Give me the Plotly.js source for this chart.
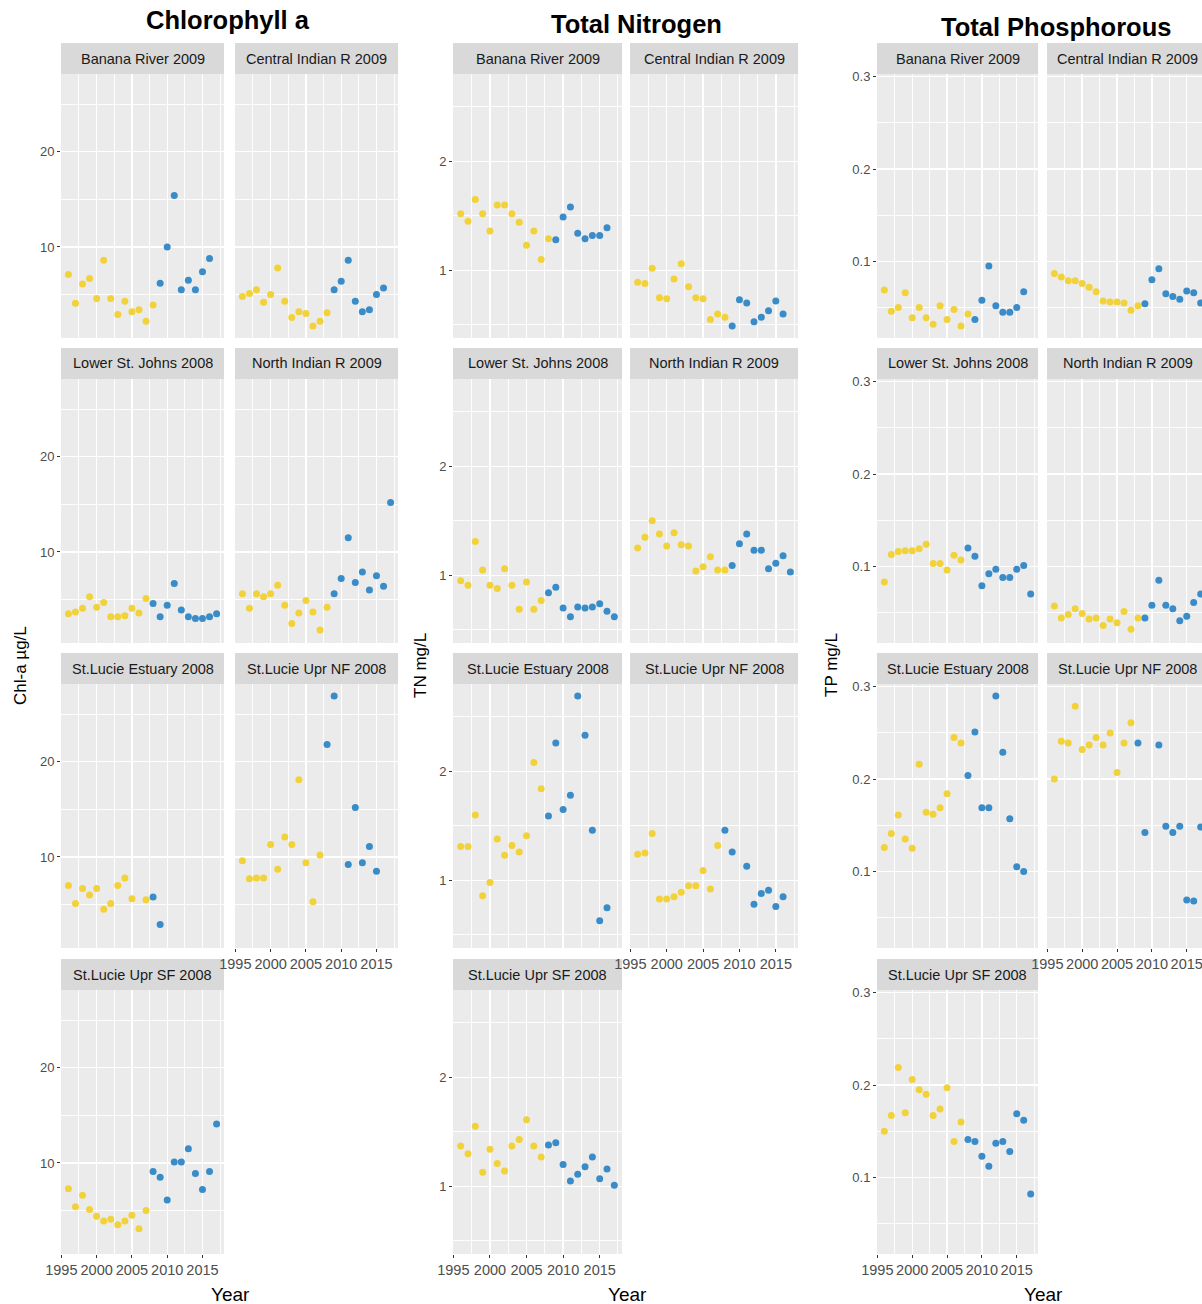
<!DOCTYPE html>
<html><head><meta charset="utf-8">
<script src="https://cdn.plot.ly/plotly-3.0.1.min.js"></script>
<style>html,body{margin:0;padding:0;overflow:hidden;background:#fff}#chart{width:1212px;height:1304px}</style>
</head><body><div id="chart"></div>
<script>
// ---------------- DATA ----------------
const years = [1996,1997,1998,1999,2000,2001,2002,2003,2004,2005,2006,2007,2008,2009,2010,2011,2012,2013,2014,2015,2016,2017];
const siteNames = ["Banana River","Central Indian R","Lower St. Johns","North Indian R","St.Lucie Estuary","St.Lucie Upr NF","St.Lucie Upr SF"];
const changeYears = [2009,2009,2008,2009,2008,2008,2008];
const panelTitles = ["Chlorophyll a","Total Nitrogen","Total Phosphorous"];
const yAxisTitles = ["Chl-a µg/L","TN mg/L","TP mg/L"];
const xAxisTitle = "Year";

// Chlorophyll a (values by year starting 1996; null = no sample)
const chlBanana  = [7.1,4.1,6.1,6.7,4.6,8.6,4.6,2.9,4.3,3.2,3.4,2.2,3.9,6.2,10.0,15.4,5.5,6.5,5.5,7.4,8.8];
const chlCentral = [4.8,5.1,5.5,4.2,5.0,7.8,4.3,2.6,3.2,3.0,1.7,2.2,3.1,5.5,6.4,8.6,4.3,3.2,3.4,5.0,5.7];
const chlLower   = [3.5,3.7,4.1,5.3,4.2,4.7,3.2,3.2,3.3,4.1,3.6,5.1,4.6,3.2,4.4,6.7,3.9,3.2,3.0,3.0,3.2,3.5];
const chlNorth   = [5.6,4.1,5.6,5.3,5.6,6.5,4.4,2.5,3.6,4.9,3.7,1.8,4.2,5.6,7.2,11.5,6.8,7.9,6.0,7.5,6.4,15.2];
const chlEstuary = [7.0,5.1,6.7,6.0,6.7,4.5,5.1,7.0,7.8,5.6,null,5.5,5.8,2.9];
const chlUprNF   = [9.6,7.7,7.8,7.8,11.3,8.7,12.1,11.3,18.1,9.4,5.3,10.2,21.8,26.9,null,9.2,15.2,9.4,11.1,8.5];
const chlUprSF   = [7.3,5.4,6.6,5.1,4.4,3.9,4.1,3.5,3.9,4.5,3.1,5.0,9.1,8.5,6.1,10.1,10.1,11.5,8.9,7.2,9.1,14.1];

// Total Nitrogen
const tnBanana  = [1.52,1.45,1.65,1.52,1.36,1.60,1.60,1.52,1.44,1.23,1.36,1.10,1.29,1.28,1.49,1.58,1.34,1.29,1.32,1.32,1.39];
const tnCentral = [0.89,0.88,1.02,0.75,0.74,0.92,1.06,0.85,0.75,0.74,0.55,0.60,0.57,0.49,0.73,0.70,0.53,0.57,0.63,0.72,0.60];
const tnLower   = [0.95,0.91,1.31,1.05,0.91,0.88,1.06,0.91,0.69,0.94,0.69,0.77,0.84,0.89,0.70,0.62,0.71,0.70,0.71,0.74,0.67,0.62];
const tnNorth   = [1.25,1.35,1.50,1.38,1.27,1.39,1.28,1.27,1.04,1.08,1.17,1.05,1.05,1.09,1.29,1.38,1.23,1.23,1.06,1.11,1.18,1.03];
const tnEstuary = [1.31,1.31,1.60,0.86,0.98,1.38,1.23,1.32,1.26,1.41,2.08,1.84,1.59,2.26,1.65,1.78,2.69,2.33,1.46,0.63,0.75];
const tnUprNF   = [1.24,1.25,1.43,0.83,0.83,0.85,0.89,0.95,0.95,1.09,0.92,1.32,1.46,1.26,null,1.13,0.78,0.88,0.91,0.76,0.85];
const tnUprSF   = [1.37,1.30,1.55,1.13,1.34,1.21,1.14,1.37,1.43,1.61,1.37,1.27,1.38,1.40,1.20,1.05,1.11,1.18,1.27,1.07,1.16,1.01];

// Total Phosphorous
const tpBanana  = [0.069,0.046,0.050,0.066,0.039,0.050,0.039,0.032,0.052,0.037,0.048,0.030,0.043,0.037,0.058,0.095,0.052,0.045,0.045,0.050,0.067];
const tpCentral = [0.087,0.083,0.079,0.079,0.076,0.072,0.067,0.057,0.056,0.056,0.055,0.047,0.052,0.054,0.080,0.092,0.065,0.062,0.059,0.068,0.066,0.055];
const tpLower   = [0.083,0.113,0.116,0.117,0.117,0.119,0.124,0.103,0.103,0.096,0.112,0.107,0.120,0.111,0.079,0.092,0.097,0.088,0.088,0.097,0.101,0.070];
const tpNorth   = [0.057,0.044,0.048,0.054,0.049,0.043,0.044,0.036,0.043,0.039,0.051,0.032,0.044,0.044,0.058,0.085,0.058,0.054,0.041,0.046,0.061,0.070];
const tpEstuary = [0.126,0.141,0.161,0.135,0.125,0.216,0.164,0.162,0.169,0.184,0.245,0.239,0.204,0.251,0.169,0.169,0.290,0.229,0.157,0.105,0.100];
const tpUprNF   = [0.200,0.241,0.239,0.279,0.232,0.237,0.245,0.237,0.250,0.207,0.239,0.261,0.239,0.142,null,0.237,0.149,0.142,0.149,0.069,0.068,0.148];
const tpUprSF   = [0.150,0.167,0.219,0.170,0.206,0.195,0.190,0.167,0.174,0.197,0.139,0.160,0.141,0.139,0.123,0.112,0.137,0.139,0.128,0.169,0.162,0.082];

// ---------------- LAYOUT / STYLE ----------------
const W = 1212, H = 1304;
const FONT = 'Arial, "Liberation Sans", sans-serif';
const YELLOW = '#F2D23A', BLUE = '#3A8CC8';
const columnData = [
  [chlBanana,chlCentral,chlLower,chlNorth,chlEstuary,chlUprNF,chlUprSF],
  [tnBanana,tnCentral,tnLower,tnNorth,tnEstuary,tnUprNF,tnUprSF],
  [tpBanana,tpCentral,tpLower,tpNorth,tpEstuary,tpUprNF,tpUprSF]
];
const colGeom = [
  {px:[[61,224],[235,398]], titleX:228, titleY:20, yTitleX:20, dtick:10, minor:5, xTitleX:230},
  {px:[[453,622],[630,798]], titleX:636, titleY:24, yTitleX:420, dtick:1, minor:0.5, xTitleX:627},
  {px:[[877,1038],[1047,1208]], titleX:1056, titleY:27, yTitleX:831, dtick:0.1, minor:0.05, xTitleX:1043}
];
const stripTops = [43,348,653,959];
const stripH = 31, panelH = 264;

const fx = p => p / W;
const fy = p => 1 - p / H;

const xMin = Math.min(...years), xMax = Math.max(...years);
const xPad = 0.05 * (xMax - xMin);
const xRange = [xMin - xPad, xMax + xPad];

const traces = [];
const layout = {
  width: W, height: H,
  margin: {l:0, r:0, t:0, b:0},
  paper_bgcolor: '#FFFFFF',
  plot_bgcolor: '#EBEBEB',
  showlegend: false,
  font: {family: FONT, color: '#1A1A1A'},
  shapes: [], annotations: []
};

for (let c = 0; c < 3; c++) {
  const g = colGeom[c];
  const all = columnData[c].flat().filter(v => v !== null);
  const yMin = Math.min(...all), yMax = Math.max(...all);
  const yPad = 0.05 * (yMax - yMin);
  const yRange = [yMin - yPad, yMax + yPad];

  for (let i = 0; i < 7; i++) {
    const k = c * 7 + i + 1;
    const row = Math.floor(i / 2), col = i % 2;
    const [x0, x1] = g.px[col];
    const sTop = stripTops[row];
    const pTop = sTop + stripH, pBot = pTop + panelH;
    const vals = columnData[c][i];
    const yrs = years.slice(0, vals.length);

    traces.push({
      type: 'scatter', mode: 'markers',
      x: yrs, y: vals,
      xaxis: 'x' + k, yaxis: 'y' + k,
      marker: {size: 7, color: yrs.map(y => y < changeYears[i] ? YELLOW : BLUE)},
      hoverinfo: 'skip'
    });

    const showX = (i === 5 || i === 6);
    const showY = (col === 0);
    layout['xaxis' + k] = {
      domain: [fx(x0), fx(x1)], anchor: 'y' + k,
      range: xRange, tick0: 1995, dtick: 5,
      showgrid: true, gridcolor: '#FFFFFF', gridwidth: 1.4,
      minor: {dtick: 2.5, showgrid: true, gridcolor: '#FFFFFF', gridwidth: 0.9},
      zeroline: false, showline: false,
      ticks: showX ? 'outside' : '', ticklen: 3, tickwidth: 1, tickcolor: '#333333',
      showticklabels: showX,
      tickfont: {family: FONT, size: 14.5, color: '#4D4D4D'},
      fixedrange: true
    };
    layout['yaxis' + k] = {
      domain: [fy(pBot), fy(pTop)], anchor: 'x' + k,
      range: yRange, tick0: 0, dtick: g.dtick,
      showgrid: true, gridcolor: '#FFFFFF', gridwidth: 1.4,
      minor: {dtick: g.minor, showgrid: true, gridcolor: '#FFFFFF', gridwidth: 0.9},
      zeroline: false, showline: false,
      ticks: showY ? 'outside' : '', ticklen: 3, tickwidth: 1, tickcolor: '#333333',
      showticklabels: showY,
      tickfont: {family: FONT, size: 13, color: '#4D4D4D'},
      fixedrange: true
    };

    // strip
    layout.shapes.push({
      type: 'rect', xref: 'paper', yref: 'paper',
      x0: fx(x0), x1: fx(x1), y0: fy(pTop), y1: fy(sTop),
      fillcolor: '#D9D9D9', line: {width: 0}, layer: 'below'
    });
    layout.annotations.push({
      xref: 'paper', yref: 'paper',
      x: fx((x0 + x1) / 2), y: fy(sTop + stripH / 2),
      xanchor: 'center', yanchor: 'middle', showarrow: false,
      text: siteNames[i] + ' ' + changeYears[i],
      font: {family: FONT, size: 14.5, color: '#1A1A1A'}
    });
  }

  // column title
  layout.annotations.push({
    xref: 'paper', yref: 'paper', x: fx(g.titleX), y: fy(g.titleY),
    xanchor: 'center', yanchor: 'middle', showarrow: false,
    text: '<b>' + panelTitles[c] + '</b>',
    font: {family: FONT, size: 25.5, color: '#000000'}
  });
  // y title
  layout.annotations.push({
    xref: 'paper', yref: 'paper', x: fx(g.yTitleX), y: fy(665),
    xanchor: 'center', yanchor: 'middle', showarrow: false, textangle: -90,
    text: yAxisTitles[c],
    font: {family: FONT, size: 17, color: '#000000'}
  });
  // x title
  layout.annotations.push({
    xref: 'paper', yref: 'paper', x: fx(g.xTitleX), y: fy(1294),
    xanchor: 'center', yanchor: 'middle', showarrow: false,
    text: xAxisTitle,
    font: {family: FONT, size: 19, color: '#000000'}
  });
}

Plotly.newPlot('chart', traces, layout, {staticPlot: true, displayModeBar: false});
</script>
</body></html>
